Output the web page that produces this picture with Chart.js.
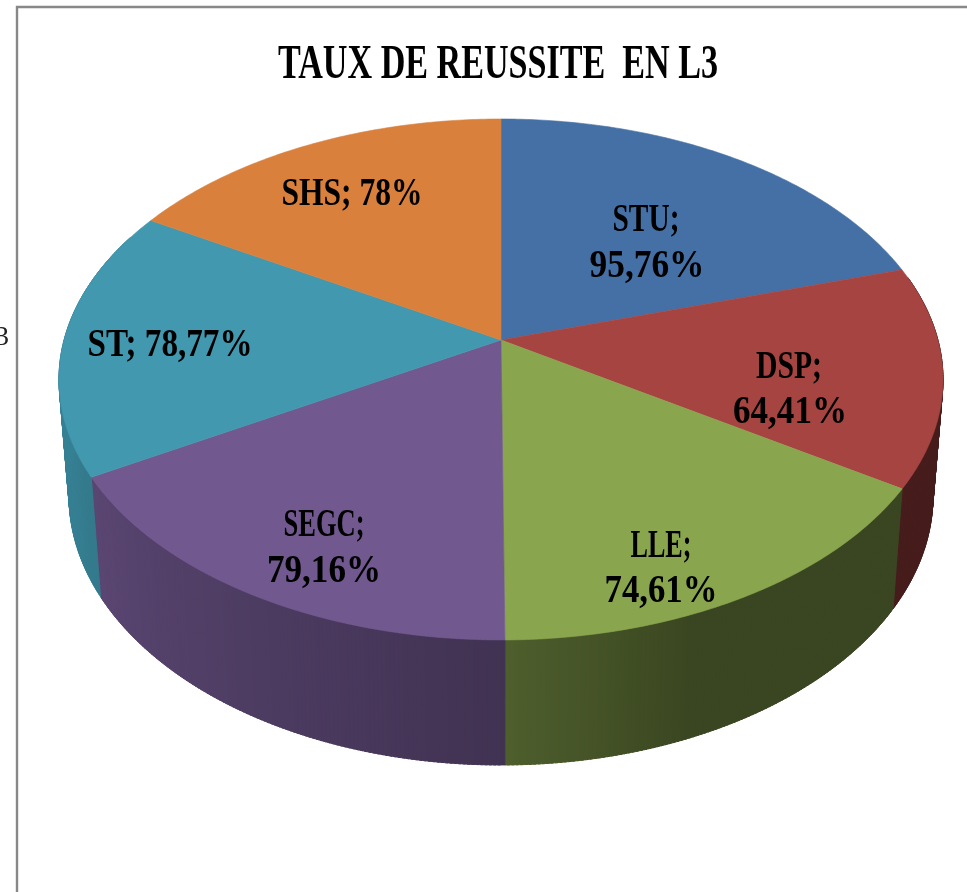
<!DOCTYPE html>
<html><head><meta charset="utf-8">
<style>html,body{margin:0;padding:0;background:#fff;overflow:hidden}
#w{position:relative;width:967px;height:892px}
canvas{display:block;filter:blur(0.45px)}</style>
<script src="https://cdn.jsdelivr.net/npm/chart.js@4"></script>
</head><body><div id="w"><canvas id="c" width="967" height="892"></canvas></div>
<script>
const categories = ["STU","DSP","LLE","SEGC","ST","SHS"];
const rates = [95.76,64.41,74.61,79.16,78.77,78];
const sliceColors = ["#4570A6","#A64442","#89A54E","#71588F","#4198AF","#D8803C"];
const labelLines = [["STU;","95,76%"],["DSP;","64,41%"],["LLE;","74,61%"],["SEGC;","79,16%"],["ST; 78,77%"],["SHS; 78%"]];
const titleText = "TAUX DE REUSSITE  EN L3";

// Perspective view of the pie (maps the library's unit disc onto the page)
const K=-0.1516;
const TOP={a:436.9,b:202.95,c:340,x:501};
const BASE={a:427,b:194,c:455,x:501};
function proj(V,u,v){const d=1+K*v;return [V.x+V.a*u/d,(V.c+V.b*v)/d];}

// Label placement style
const labelStyle=[
 {x:[646,647],y:[221,267],w:[67,115]},
 {x:[789,790],y:[368,413],w:[66,114]},
 {x:[661,661],y:[547,592],w:[61,113]},
 {x:[324,324],y:[526,572],w:[81,114]},
 {x:[170],y:[346],w:[165]},
 {x:[352],y:[195],w:[141]}];
const LABEL_FONT="bold 39px 'Liberation Serif'";

function shade(hex,f){const n=parseInt(hex.slice(1),16);
 return `rgb(${((n>>16&255)*f)|0},${((n>>8&255)*f)|0},${((n&255)*f)|0})`;}
function wallFactor(t){ // t: degrees clockwise from the top of the pie
 const pts=[[0,.42],[158,.43],[180,.58],[250,.84],[360,.87]];
 for(let i=1;i<pts.length;i++){if(t<=pts[i][0]){const p=pts[i-1],q=pts[i];
  return p[1]+(q[1]-p[1])*(t-p[0])/(q[0]-p[0]);}}
 return .87;}

// Slices: geometry comes from the library's arc element, only the view is projected
Chart.ArcElement.prototype.draw=function(ctx){
 const s=this.startAngle,e=this.endAngle,n=Math.max(8,Math.ceil((e-s)*90));
 ctx.save();ctx.beginPath();
 const o=proj(TOP,0,0);ctx.moveTo(o[0],o[1]);
 for(let i=0;i<=n;i++){const a=s+(e-s)*i/n;const p=proj(TOP,Math.cos(a),Math.sin(a));ctx.lineTo(p[0],p[1]);}
 ctx.closePath();
 ctx.fillStyle=this.options.backgroundColor;ctx.fill();
 ctx.strokeStyle=this.options.backgroundColor;ctx.lineWidth=.6;ctx.stroke();
 ctx.restore();
};

const pie3d={
 id:'pie3d',
 beforeDraw(chart){
  const ctx=chart.ctx;
  ctx.save();
  ctx.strokeStyle='#888';ctx.lineWidth=2.4;
  ctx.beginPath();ctx.moveTo(17,892);ctx.lineTo(17,7);ctx.lineTo(967,7);ctx.stroke();
  ctx.fillStyle='#222';ctx.font="28px 'Liberation Serif'";ctx.textBaseline='middle';ctx.textAlign='left';
  ctx.fillText('3',-5,338);
  ctx.restore();
  const tb=chart.titleBlock;
  if(tb&&!tb._wrapped){tb._wrapped=true;const d=tb.draw.bind(tb);
   tb.draw=function(){
    const c=chart.ctx;c.save();c.font=chart.options.plugins.title.font.weight+' '+chart.options.plugins.title.font.size+"px 'Liberation Serif'";
    const sx=440/c.measureText(titleText).width;
    c.translate(498,0);c.scale(sx,1);c.translate(-chart.width/2,0);d();c.restore();};}
 },
 beforeDatasetsDraw(chart){
  const ctx=chart.ctx,arcs=chart.getDatasetMeta(0).data;
  ctx.save();ctx.lineWidth=.9;ctx.lineJoin='round';
  arcs.forEach((el,i)=>{
   const col=sliceColors[i],step=Math.PI/360;
   for(let a=el.startAngle;a<el.endAngle;a+=step){
    const b=Math.min(a+step*1.6,el.endAngle);
    const t=((a+Math.PI/2)*180/Math.PI+360)%360;
    if(t<75||t>295)continue;
    const p1=proj(TOP,Math.cos(a),Math.sin(a)),p2=proj(TOP,Math.cos(b),Math.sin(b));
    const q1=proj(BASE,Math.cos(a),Math.sin(a)),q2=proj(BASE,Math.cos(b),Math.sin(b));
    ctx.beginPath();ctx.moveTo(p1[0],p1[1]);ctx.lineTo(p2[0],p2[1]);ctx.lineTo(q2[0],q2[1]);ctx.lineTo(q1[0],q1[1]);ctx.closePath();
    const c=shade(col,wallFactor(t));
    ctx.fillStyle=c;ctx.strokeStyle=c;ctx.fill();ctx.stroke();
   }
  });
  ctx.restore();
 },
 afterDatasetsDraw(chart){
  const ctx=chart.ctx;
  ctx.save();ctx.font=LABEL_FONT;ctx.fillStyle='#000';ctx.textBaseline='middle';ctx.textAlign='center';
  labelLines.forEach((lines,i)=>{const st=labelStyle[i];
   lines.forEach((txt,j)=>{
    const sx=st.w[j]/ctx.measureText(txt).width;
    ctx.save();ctx.translate(st.x[j],st.y[j]);ctx.scale(sx,1);ctx.fillText(txt,0,0);ctx.restore();});});
  ctx.restore();
 }
};

new Chart(document.getElementById('c'),{
 type:'pie',
 data:{labels:categories,datasets:[{data:rates,backgroundColor:sliceColors,borderWidth:0}]},
 options:{responsive:false,animation:false,
  layout:{padding:0},
  plugins:{legend:{display:false},tooltip:{enabled:false},
   title:{display:true,text:titleText,color:'#000',padding:{top:37,bottom:10},
    font:{family:"'Liberation Serif'",size:48,weight:'bold'}}}},
 plugins:[pie3d]
});
</script></body></html>
